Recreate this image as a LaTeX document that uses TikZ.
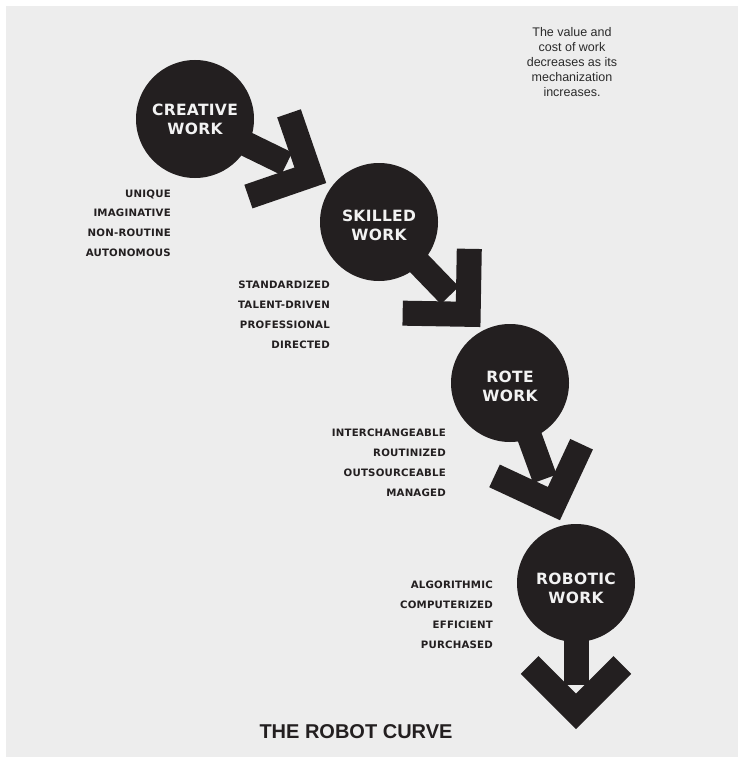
\documentclass[tikz,border=0pt]{standalone}
\usepackage{fontspec}
\setmainfont{Liberation Sans}
\newfontfamily\labfont[LetterSpace=2]{DejaVu Sans Bold}
\newfontfamily\circfont[LetterSpace=2]{DejaVu Sans Bold}
\newfontfamily\titlefont{Liberation Sans Bold}
\definecolor{ink}{HTML}{231F20}
\definecolor{bggray}{HTML}{EDEDED}
\definecolor{notegray}{HTML}{2B2B2B}
\definecolor{circtext}{HTML}{F2F2F2}
\tikzset{
  workcircle/.style={circle, fill=ink, minimum size=118pt, inner sep=0pt},
  circletext/.style={inner sep=0pt, text=circtext, align=center,
    font=\circfont\fontsize{15.5}{19}\selectfont},
  listlabel/.style={anchor=base east, inner sep=0pt, text=ink,
    font=\labfont\fontsize{10.2}{12}\selectfont},
  notetext/.style={inner sep=0pt, text=notegray, align=center,
    font=\fontsize{12.5}{15}\selectfont},
  titletext/.style={inner sep=0pt, text=ink, font=\titlefont\fontsize{20}{24}\selectfont},
}
\newcommand\workarrow[2]{%
  \begin{scope}[shift={(#1.center)}, rotate=#2]
    \fill[ink] (0,-12.5) rectangle (102,12.5);
    \fill[ink] (146,0) -- (90.85,55.15) -- (73.17,37.47) -- (110.64,0)
      -- (73.17,-37.47) -- (90.85,-55.15) -- cycle;
  \end{scope}}
\begin{document}
\begin{tikzpicture}[x=1pt,y=-1pt]
  \useasboundingbox (0,0) rectangle (743,757);
  \fill[white] (0,0) rectangle (743,757);
  \fill[bggray] (6,6) rectangle (738,757);

  % circles
  \node[workcircle] (creative) at (195,119) {};
  \node[workcircle] (skilled) at (379,222) {};
  \node[workcircle] (rote) at (510,383) {};
  \node[workcircle] (robotic) at (576,583) {};

  % arrows
  \workarrow{creative}{-26}
  \workarrow{skilled}{-46}
  \workarrow{rote}{-70}
  \workarrow{robotic}{-90}

  % circle texts
  \node[circletext] (creative-t) at ([yshift=0pt]creative.center) {CREATIVE\\WORK};
  \node[circletext] (skilled-t) at ([yshift=-3pt]skilled.center) {SKILLED\\WORK};
  \node[circletext] (rote-t) at ([yshift=-3pt]rote.center) {ROTE\\WORK};
  \node[circletext] (robotic-t) at ([yshift=-5pt]robotic.center) {ROBOTIC\\WORK};

  % lists
  \foreach \t [count=\i] in {UNIQUE,IMAGINATIVE,NON-ROUTINE,AUTONOMOUS}
    \node[listlabel] (la\i) at (171,{197+(\i-1)*19.7}) {\t};
  \foreach \t [count=\i] in {STANDARDIZED,TALENT-DRIVEN,PROFESSIONAL,DIRECTED}
    \node[listlabel] (lb\i) at (330,{288+(\i-1)*20}) {\t};
  \foreach \t [count=\i] in {INTERCHANGEABLE,ROUTINIZED,OUTSOURCEABLE,MANAGED}
    \node[listlabel] (lc\i) at (446,{436+(\i-1)*20}) {\t};
  \foreach \t [count=\i] in {ALGORITHMIC,COMPUTERIZED,EFFICIENT,PURCHASED}
    \node[listlabel] (ld\i) at (493,{588+(\i-1)*20}) {\t};

  % note
  \node[notetext] (note) at (572,62) {The value and\\cost of work\\decreases as its\\mechanization\\increases.};

  % title
  \node[titletext] (title) at (356,732) {THE ROBOT CURVE};
\end{tikzpicture}
\end{document}
